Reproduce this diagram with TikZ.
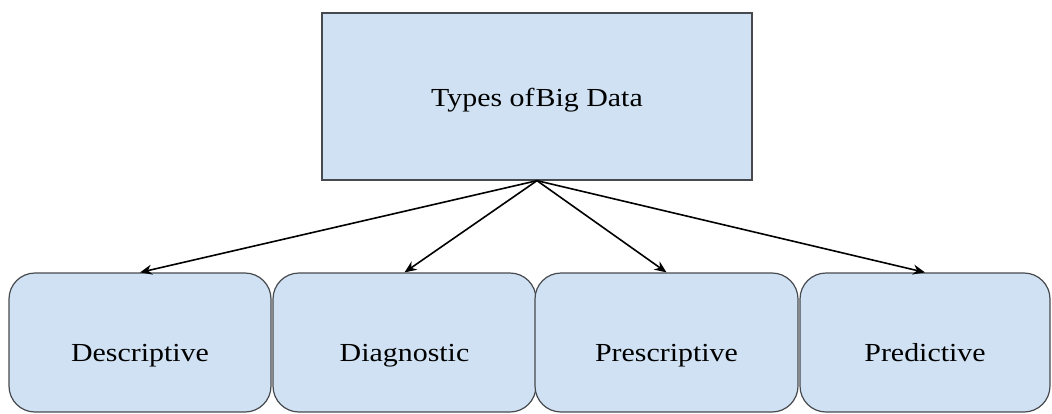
\documentclass[tikz,border=0pt]{standalone}
\usepackage{fontspec}
\setmainfont{Liberation Serif}
\usetikzlibrary{arrows.meta}
\definecolor{boxfill}{RGB}{207,225,242}
\definecolor{boxline}{RGB}{70,73,78}
\tikzset{
  rootbox/.style={draw=boxline, line width=1.3pt, fill=boxfill, minimum width=430pt, minimum height=167pt, inner sep=0pt,
    text height=20pt, text depth=1pt},
  leafbox/.style={draw=boxline, line width=1.2pt, fill=boxfill, rounded corners=26pt, minimum height=139pt, inner sep=0pt,
    text height=40pt, text depth=3pt},
  label text/.style={font=\fontsize{26}{29}\selectfont},
  link/.style={draw=black, line width=1.6pt, -{Stealth[length=12pt,width=10pt]}}
}
\newcommand{\wide}[1]{\scalebox{1.15}[1]{#1}}
\begin{document}
\begin{tikzpicture}[x=1pt, y=-1pt]
  \useasboundingbox (0,0) rectangle (1052,413);
  % root of the hierarchy
  \node[rootbox, label text] (root) at (537,96.5) {\wide{Types of\hspace{1pt}Big Data}};
  % the four kinds of analytics
  \node[leafbox, minimum width=262pt, label text] (desc) at (140,342.5) {\wide{Descriptive}};
  \node[leafbox, minimum width=263pt, label text] (diag) at (404.5,342.5) {\wide{Diagnostic}};
  \node[leafbox, minimum width=263pt, label text] (pres) at (666.5,342.5) {\wide{Prescriptive}};
  \node[leafbox, minimum width=250pt, label text] (pred) at (925,342.5) {\wide{Predictive}};
  % connectors from the root
  \draw[link] (root.south) -- (desc.north);
  \draw[link] (root.south) -- (diag.north);
  \draw[link] (root.south) -- (pres.north);
  \draw[link] (root.south) -- (pred.north);
\end{tikzpicture}
\end{document}
